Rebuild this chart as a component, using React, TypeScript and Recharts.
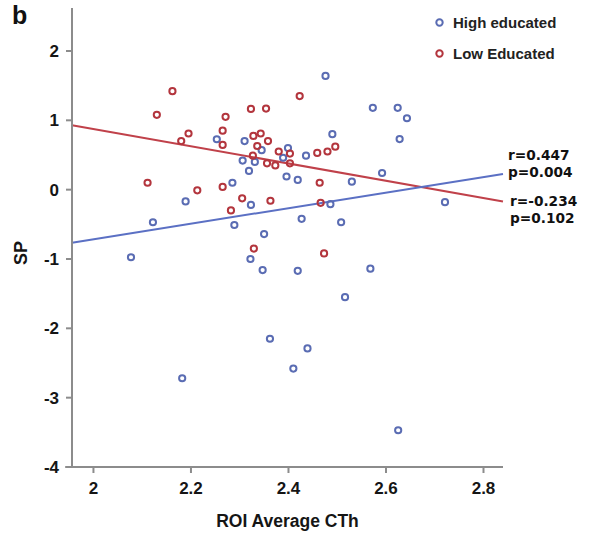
import React from "react";
import {
  ScatterChart,
  Scatter,
  XAxis,
  YAxis,
  ReferenceLine,
  Label,
} from "recharts";

// High educated group (blue)
const highX = [
  2.476, 2.253, 2.49, 2.31, 2.345, 2.436, 2.399, 2.306, 2.331, 2.319, 2.396,
  2.419, 2.285, 2.189, 2.323, 2.122, 2.289, 2.486, 2.427, 2.508, 2.35, 2.077,
  2.322, 2.347, 2.419, 2.516, 2.362, 2.439, 2.41, 2.182, 2.568, 2.625, 2.573,
  2.624, 2.643, 2.628, 2.592, 2.53, 2.721, 2.389,
];
const highY = [
  1.64, 0.727, 0.8, 0.7, 0.57, 0.49, 0.6, 0.42, 0.4, 0.27, 0.19, 0.14, 0.1,
  -0.17, -0.22, -0.47, -0.51, -0.21, -0.42, -0.47, -0.64, -0.975, -1.0, -1.16,
  -1.17, -1.55, -2.15, -2.29, -2.58, -2.72, -1.14, -3.47, 1.18, 1.18, 1.03,
  0.73, 0.24, 0.115, -0.18, 0.46,
];

// Low educated group (red)
const lowX = [
  2.162, 2.423, 2.13, 2.323, 2.354, 2.271, 2.195, 2.18, 2.265, 2.265, 2.328,
  2.343, 2.358, 2.336, 2.496, 2.48, 2.459, 2.403, 2.38, 2.327, 2.356, 2.373,
  2.403, 2.464, 2.111, 2.213, 2.265, 2.305, 2.363, 2.282, 2.466, 2.329, 2.473,
];
const lowY = [
  1.42, 1.35, 1.08, 1.165, 1.17, 1.05, 0.81, 0.7, 0.85, 0.645, 0.775, 0.81,
  0.7, 0.63, 0.62, 0.55, 0.53, 0.52, 0.55, 0.49, 0.38, 0.35, 0.38, 0.1, 0.1,
  -0.01, 0.04, -0.125, -0.16, -0.3, -0.19, -0.85, -0.92,
];

// regression lines (end points at the plot edges)
const fitX = [1.956, 2.84];
const highFitY = [-0.765, 0.227];
const lowFitY = [0.93, -0.17];

const xTicks = [2, 2.2, 2.4, 2.6, 2.8];
const yTicks = [-4, -3, -2, -1, 0, 1, 2];

const BLUE = "#5a6cb3";
const RED = "#b3353d";
const AXIS = "#8c8c8c";
const FONT = "'Liberation Sans', Arial, sans-serif";

const highData = highX.map((x, i) => ({ x, y: highY[i] }));
const lowData = lowX.map((x, i) => ({ x, y: lowY[i] }));

const ring = (color: string) => (props: any) => (
  <circle
    cx={props.cx}
    cy={props.cy}
    r={3.1}
    fill="none"
    stroke={color}
    strokeWidth={2}
  />
);

const tickStyle = { fontSize: 17, fontWeight: 700, fill: "#151515", fontFamily: FONT };

const statStyle: React.CSSProperties = {
  position: "absolute",
  fontFamily: "'DejaVu Sans', sans-serif",
  fontWeight: 700,
  fontSize: 13.7,
  lineHeight: "17.3px",
  color: "#111",
  whiteSpace: "pre",
};

const legendItem = (color: string, text: string, top: number) => (
  <div
    style={{
      position: "absolute",
      left: 434,
      top,
      height: 16,
      display: "flex",
      alignItems: "center",
      fontFamily: FONT,
      fontWeight: 700,
      fontSize: 15,
      color: "#222",
    }}
  >
    <svg width={11} height={11} style={{ marginRight: 8 }}>
      <circle cx={5.5} cy={5.5} r={3.2} fill="none" stroke={color} strokeWidth={2} />
    </svg>
    {text}
  </div>
);

export default function App() {
  return (
    <div
      style={{
        position: "absolute",
        left: 0,
        top: 0,
        width: 591,
        height: 534,
        background: "#fff",
        fontFamily: FONT,
      }}
    >
      <ScatterChart
        width={591}
        height={534}
        margin={{ top: 8, right: 88, bottom: 0, left: 0 }}
      >
        <XAxis
          type="number"
          dataKey="x"
          domain={[fitX[0], fitX[1]]}
          ticks={xTicks}
          allowDataOverflow
          height={67}
          stroke={AXIS}
          strokeWidth={2}
          tickSize={6}
          tickMargin={9}
          tick={tickStyle}
        >
          <Label
            value="ROI Average CTh"
            position="insideBottom"
            offset={7}
            style={{ fontSize: 17.5, fontWeight: 700, fill: "#151515", fontFamily: FONT }}
          />
        </XAxis>
        <YAxis
          type="number"
          dataKey="y"
          domain={[-4, 2.62]}
          ticks={yTicks}
          allowDataOverflow
          width={72}
          stroke={AXIS}
          strokeWidth={2}
          tickSize={6}
          tickMargin={7}
          tick={tickStyle}
        />
        {/* the x axis line runs a little past the y axis */}
        <ReferenceLine
          segment={[
            { x: 1.942, y: -4 },
            { x: fitX[0], y: -4 },
          ]}
          ifOverflow="visible"
          stroke={AXIS}
          strokeWidth={2}
        />
        <ReferenceLine
          segment={[
            { x: fitX[0], y: lowFitY[0] },
            { x: fitX[1], y: lowFitY[1] },
          ]}
          stroke="#c0414a"
          strokeWidth={2}
        />
        <ReferenceLine
          segment={[
            { x: fitX[0], y: highFitY[0] },
            { x: fitX[1], y: highFitY[1] },
          ]}
          stroke="#5b70c4"
          strokeWidth={2}
        />
        <Scatter
          name="High educated"
          data={highData}
          shape={ring(BLUE)}
          isAnimationActive={false}
        />
        <Scatter
          name="Low Educated"
          data={lowData}
          shape={ring(RED)}
          isAnimationActive={false}
        />
      </ScatterChart>

      <div
        style={{
          position: "absolute",
          left: 12,
          top: 1,
          fontSize: 25,
          fontWeight: 700,
          color: "#111",
        }}
      >
        b
      </div>
      <div
        style={{
          position: "absolute",
          left: 21,
          top: 253,
          transform: "translate(-50%, -50%) rotate(-90deg)",
          fontSize: 18,
          fontWeight: 700,
          color: "#151515",
        }}
      >
        SP
      </div>

      {legendItem(BLUE, "High educated", 14)}
      {legendItem(RED, "Low Educated", 45)}

      <div style={{ ...statStyle, left: 508, top: 147 }}>{"r=0.447\np=0.004"}</div>
      <div style={{ ...statStyle, left: 510, top: 193 }}>{"r=-0.234\np=0.102"}</div>
    </div>
  );
}
